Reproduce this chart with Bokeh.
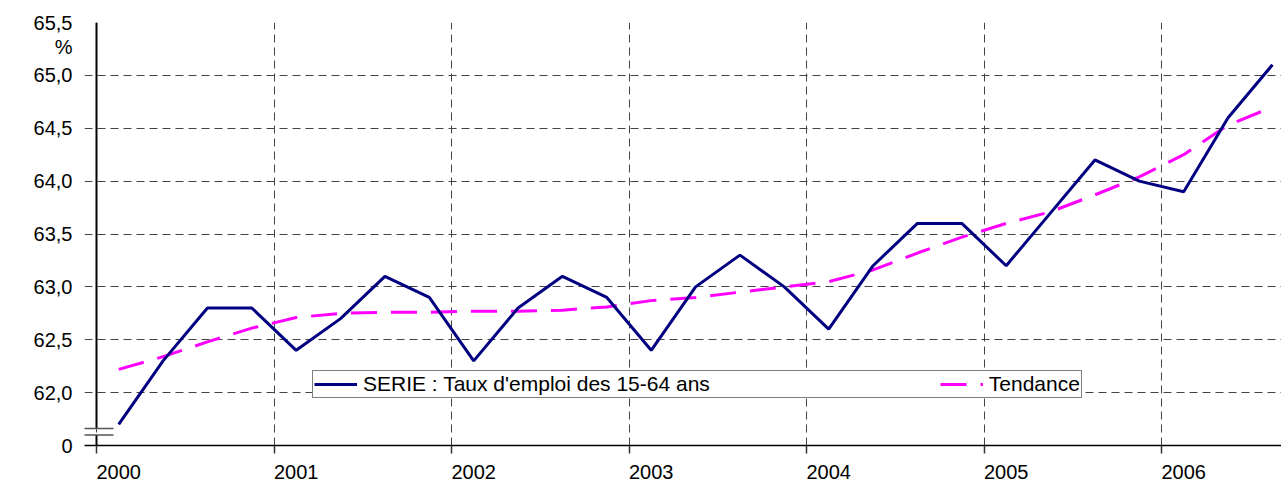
from bokeh.plotting import figure
from bokeh.models import FixedTicker, Legend, LegendItem, Range1d
from bokeh.embed import file_html
from bokeh.resources import INLINE

# ---- data ----
quarters = ["2000-T1", "2000-T2", "2000-T3", "2000-T4",
            "2001-T1", "2001-T2", "2001-T3", "2001-T4",
            "2002-T1", "2002-T2", "2002-T3", "2002-T4",
            "2003-T1", "2003-T2", "2003-T3", "2003-T4",
            "2004-T1", "2004-T2", "2004-T3", "2004-T4",
            "2005-T1", "2005-T2", "2005-T3", "2005-T4",
            "2006-T1", "2006-T2", "2006-T3"]
serie = [61.7, 62.3, 62.8, 62.8, 62.4, 62.7, 63.1, 62.9,
         62.3, 62.8, 63.1, 62.9, 62.4, 63.0, 63.3, 63.0,
         62.6, 63.2, 63.6, 63.6, 63.2, 63.7, 64.2, 64.0,
         63.9, 64.6, 65.1]
tendance = [62.22, 62.34, 62.48, 62.61, 62.71, 62.75, 62.76, 62.76,
            62.77, 62.77, 62.78, 62.81, 62.87, 62.90, 62.95, 63.00,
            63.05, 63.16, 63.32, 63.47, 63.60, 63.71, 63.87, 64.04,
            64.25, 64.53, 64.70]
years = [2000, 2001, 2002, 2003, 2004, 2005, 2006]
y_ticks = [62.0, 62.5, 63.0, 63.5, 64.0, 64.5, 65.0, 65.5]
axis_floor = 61.5
axis_top = 65.5
break_levels = [61.60, 61.66]
break_label = "0"
unit_label = "%"
unit_level = 65.27
serie_name = "SERIE : Taux d'emploi des 15-64 ans"
trend_name = "Tendance"

# quarter positions (middle of each quarter)
xq = [int(q[:4]) + (int(q[-1]) - 0.5) / 4 for q in quarters]
x0 = years[0]

FONT = "Liberation Sans"

p = figure(width=1281, height=481, output_backend="svg", toolbar_location=None,
           x_range=Range1d(1999.9324, 2006.676), y_range=Range1d(axis_floor, axis_top),
           min_border_left=84, min_border_right=0, min_border_top=22,
           min_border_bottom=34)
p.outline_line_color = None
p.background_fill_color = "white"

# grids
p.xgrid.ticker = FixedTicker(ticks=years)
p.ygrid.ticker = FixedTicker(ticks=y_ticks)
for g in (p.xgrid, p.ygrid):
    g.grid_line_color = "#444444"
    g.grid_line_dash = "8 5"
    g.grid_line_width = 1

# y axis (labels only; the visible axis line is drawn at x = 2000)
p.yaxis.ticker = FixedTicker(ticks=[axis_floor] + y_ticks + [unit_level])
ov = {t: f"{t:.1f}".replace(".", ",") for t in y_ticks}
ov[axis_floor] = break_label
ov[unit_level] = unit_label
p.yaxis.major_label_overrides = ov
p.yaxis.axis_line_color = None
p.yaxis.major_tick_out = 0
p.yaxis.major_tick_in = 0
p.yaxis.minor_tick_out = 0
p.yaxis.minor_tick_in = 0
p.yaxis.major_label_standoff = 12
p.yaxis.major_label_text_font = FONT
p.yaxis.major_label_text_font_size = "20px"
p.yaxis.major_label_text_color = "black"

# x axis: labels centred on first quarter of each year, small ticks at year limits
label_pos = [y + 0.125 for y in years]
p.xaxis.ticker = FixedTicker(ticks=label_pos, minor_ticks=years)
p.xaxis.major_label_overrides = {lp: str(y) for lp, y in zip(label_pos, years)}
p.xaxis.axis_line_color = "black"
p.xaxis.axis_line_width = 1.5
p.xaxis.major_tick_out = 0
p.xaxis.major_tick_in = 0
p.xaxis.minor_tick_out = 8
p.xaxis.minor_tick_in = 0
p.xaxis.minor_tick_line_color = "#333333"
p.xaxis.minor_tick_line_width = 1.5
p.xaxis.major_label_standoff = 11
p.xaxis.major_label_text_font = FONT
p.xaxis.major_label_text_font_size = "20px"
p.xaxis.major_label_text_color = "black"

# vertical axis line with a break
p.segment(x0=[x0, x0], y0=[axis_floor, break_levels[1]],
          x1=[x0, x0], y1=[break_levels[0], axis_top],
          line_color="black", line_width=2)
p.segment(x0=[x0 - 0.09, x0 - 0.09], y0=break_levels,
          x1=[x0 + 0.096, x0 + 0.096], y1=break_levels,
          line_color="#555555", line_width=1.5)

# series
r2 = p.line(xq, tendance, line_color="#FF00FF", line_width=3, line_dash="26 14")
r1 = p.line(xq, serie, line_color="#000080", line_width=3)

legend = Legend(items=[LegendItem(label=serie_name, renderers=[r1]),
                       LegendItem(label=trend_name, renderers=[r2])],
                orientation="horizontal", location=(228, 47),
                border_line_color="black", border_line_width=1,
                background_fill_color="white", background_fill_alpha=1,
                label_text_font=FONT, label_text_font_size="21px",
                label_text_color="black", glyph_width=43, glyph_height=18,
                label_height=18, label_standoff=6, spacing=230,
                padding=1, margin=0)
p.add_layout(legend)

open("out.html", "w").write(file_html(p, INLINE))
